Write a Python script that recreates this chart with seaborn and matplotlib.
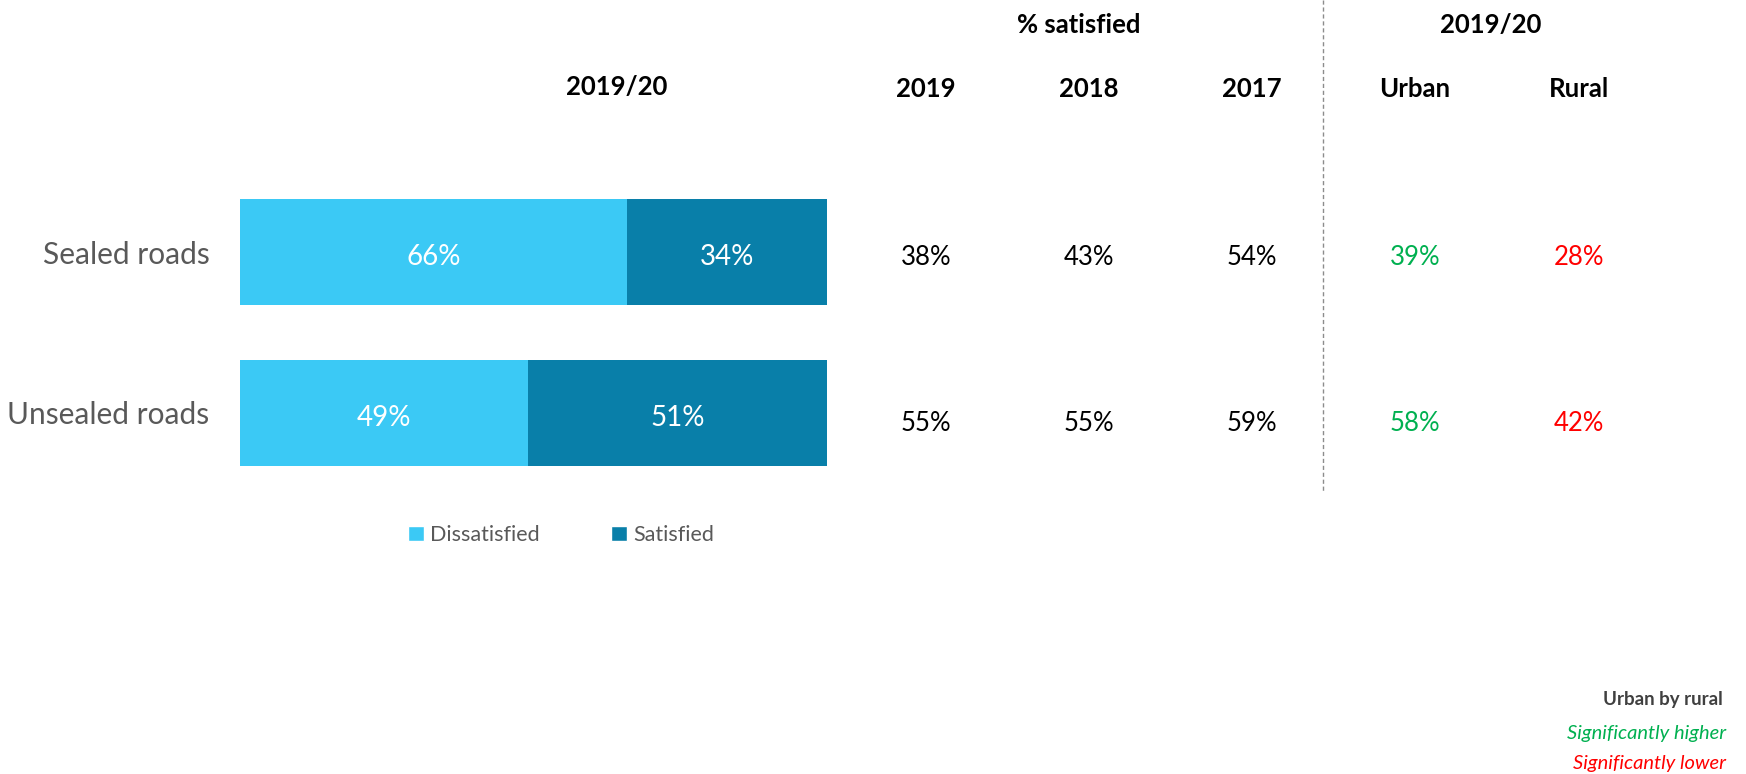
import matplotlib
matplotlib.use("Agg")
import matplotlib.pyplot as plt
import matplotlib.transforms as mtransforms
from matplotlib.patches import Patch
import pandas as pd
import seaborn as sns

# Data
categories = ["Sealed roads", "Unsealed roads"]
dissatisfied = [66, 49]
satisfied = [34, 51]

year_cols = ["2019", "2018", "2017"]
sat_2019 = ["38%", "55%"]
sat_2018 = ["43%", "55%"]
sat_2017 = ["54%", "59%"]

area_cols = ["Urban", "Rural"]
urban = ["39%", "58%"]
rural = ["28%", "42%"]

light_blue = "#3BC9F5"
dark_blue = "#097FA9"
green = "#00B050"
red = "#FF0000"
grey_text = "#595959"

df = pd.DataFrame({"category": categories,
                   "dissatisfied": dissatisfied,
                   "satisfied": satisfied})
df["total"] = df["dissatisfied"] + df["satisfied"]

sns.set_theme(style="white")
plt.rcParams["font.family"] = ["Lato", "DejaVu Sans"]

W, H = 1746, 774
fig = plt.figure(figsize=(W / 100, H / 100), dpi=100)

# bar area in pixels: left 240, right 827, rows centred at 252 / 412
ax = fig.add_axes([240 / W, 1 - 493 / H, 587 / W, 321 / H])

sns.barplot(data=df, x="total", y="category", orient="h", color=dark_blue,
            width=0.66, saturation=1, linewidth=0, ax=ax)
sns.barplot(data=df, x="dissatisfied", y="category", orient="h", color=light_blue,
            width=0.66, saturation=1, linewidth=0, ax=ax)

for i, (d, s) in enumerate(zip(df["dissatisfied"], df["satisfied"])):
    ax.text(d / 2, i + 0.03, f"{d}%", ha="center", va="center", color="white", fontsize=20)
    ax.text(d + s / 2, i + 0.03, f"{s}%", ha="center", va="center", color="white", fontsize=20)

ax.set_xlim(0, 100)
ax.set_ylim(1.5, -0.5)
ax.set_xlabel("")
ax.set_ylabel("")
ax.set_xticks([])
sns.despine(ax=ax, left=True, bottom=True)
ax.tick_params(axis="y", length=0, pad=22, labelsize=21.5, labelcolor=grey_text)

# headings
fig.text(617 / W, 1 - 87 / H, "2019/20", ha="center", va="center",
         fontsize=18.5, fontweight="bold", color="black")
fig.text(1079 / W, 1 - 25 / H, "% satisfied", ha="center", va="center",
         fontsize=18.5, fontweight="bold", color="black")
fig.text(1491 / W, 1 - 25 / H, "2019/20", ha="center", va="center",
         fontsize=18.5, fontweight="bold", color="black")

col_x = [926, 1089, 1252]
area_x = [1415, 1579]
for x, lab in zip(col_x + area_x, year_cols + area_cols):
    fig.text(x / W, 1 - 89 / H, lab, ha="center", va="center",
             fontsize=18.5, fontweight="bold", color="black")

# table values aligned to the bar rows
trans = mtransforms.blended_transform_factory(fig.transFigure, ax.transData)
for col, x in zip([sat_2019, sat_2018, sat_2017], col_x):
    for i, v in enumerate(col):
        ax.text(x / W, i + 0.03 + 0.04 * i, v, transform=trans, ha="center",
                va="center", fontsize=18.5, color="black")
for col, x, c in zip([urban, rural], area_x, [green, red]):
    for i, v in enumerate(col):
        ax.text(x / W, i + 0.03 + 0.04 * i, v, transform=trans, ha="center",
                va="center", fontsize=18.5, color=c)

# dashed divider
fig.add_artist(plt.Line2D([1323 / W, 1323 / W], [1, 1 - 493 / H],
                          transform=fig.transFigure, color="#8C8C8C",
                          linestyle=(0, (3, 2)), linewidth=1))

# legend
handles = [Patch(facecolor=light_blue, label="Dissatisfied"),
           Patch(facecolor=dark_blue, label="Satisfied")]
fig.legend(handles=handles, loc="center", bbox_to_anchor=(561 / W, 1 - 535 / H),
           ncol=2, frameon=False, fontsize=15.5, handlelength=0.75, handleheight=0.75,
           handletextpad=0.3, columnspacing=3.3, labelcolor=grey_text)

# significance key
fig.text(1723 / W, 1 - 700 / H, "Urban by rural", ha="right", va="center",
         fontsize=13.5, fontweight="bold", color="#404040")
fig.text(1726 / W, 1 - 734 / H, "Significantly higher", ha="right", va="center",
         fontsize=14.5, fontstyle="italic", color=green)
fig.text(1726 / W, 1 - 763 / H, "Significantly lower", ha="right", va="center",
         fontsize=14.5, fontstyle="italic", color=red)

fig.savefig("out.png", dpi=100)
